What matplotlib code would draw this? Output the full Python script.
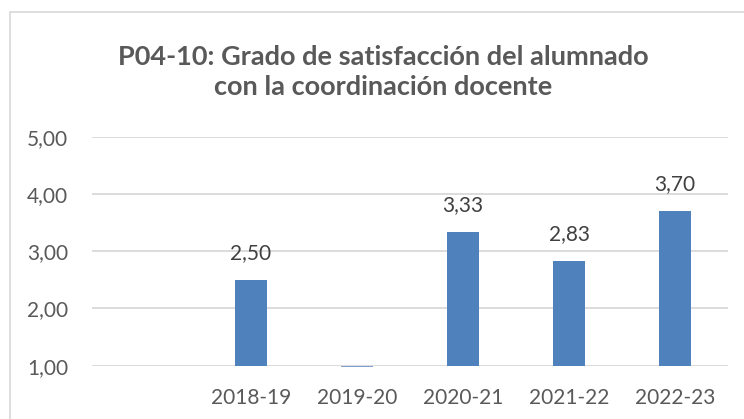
import matplotlib
matplotlib.use('AGG')

import matplotlib.pyplot as plt
from matplotlib.patches import Rectangle

# data
categories = ['', '2018-19', '2019-20', '2020-21', '2021-22', '2022-23']
values = [None, 2.50, 0.97, 3.33, 2.83, 3.70]
shown_labels = ['', '2,50', '', '3,33', '2,83', '3,70']
yticks = [1, 2, 3, 4, 5]

title = 'P04-10: Grado de satisfacción del alumnado\ncon la coordinación docente'

text_color = '#595959'
bar_color = '#4f81bd'
grid_color = '#d9d9d9'

plt.rcParams['font.family'] = ['Lato', 'DejaVu Sans']

fig = plt.figure(figsize=(7.44, 4.19), dpi=100)
fig.patch.set_facecolor('white')

# chart frame (cut off at right and bottom like the screenshot)
fig.patches.append(Rectangle((10 / 744, -0.1), 1.0, (419 - 12) / 419 + 0.1,
                             transform=fig.transFigure, fill=False,
                             edgecolor='#d9d9d9', linewidth=1.2))

ax = fig.add_axes([92 / 744, 53.3 / 419, 636 / 744, 229 / 419])

base = 1.0
for i, v in enumerate(values):
    if v is None:
        continue
    color = bar_color if v >= base else '#7f9fcf'
    ax.bar(i, v - base, bottom=base, width=0.31, color=color, zorder=3,
           clip_on=False)
    if shown_labels[i]:
        ax.text(i, v + 0.3, shown_labels[i], ha='center', va='bottom',
                fontsize=15, color='#404040')

ax.set_xlim(-0.5, len(categories) - 0.5)
ax.set_ylim(1, 5)
ax.set_yticks(yticks)
ax.set_yticklabels(['{:.2f}'.format(t).replace('.', ',') for t in yticks])
ax.set_xticks(range(len(categories)))
ax.set_xticklabels(categories)
ax.tick_params(axis='both', length=0, labelsize=15, labelcolor=text_color)
ax.tick_params(axis='y', pad=17)
ax.tick_params(axis='x', pad=16)
ax.yaxis.grid(True, color=grid_color, linewidth=1.3, zorder=0)
for s in ax.spines.values():
    s.set_visible(False)
ax.set_facecolor('none')

fig.text(383 / 744, 1 - 72 / 419, title, ha='center', va='center',
         fontsize=19.5, fontweight='bold', color=text_color, linespacing=1.3)

fig.savefig('out.png', dpi=100)
